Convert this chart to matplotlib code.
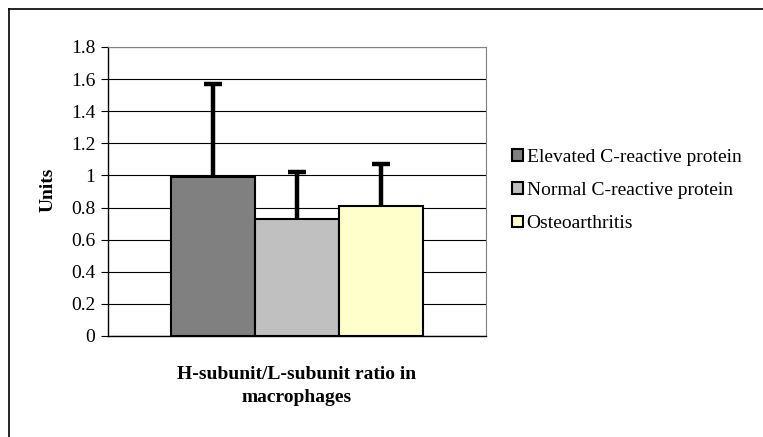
import matplotlib
matplotlib.use("Agg")
import matplotlib.pyplot as plt
from matplotlib.patches import Patch
from matplotlib.lines import Line2D

plt.rcParams['font.family'] = ['Liberation Serif', 'DejaVu Serif']

series = ["Elevated C-reactive protein", "Normal C-reactive protein", "Osteoarthritis"]
values = [0.99, 0.73, 0.81]
errors = [0.58, 0.29, 0.26]
colors = ["#808080", "#C0C0C0", "#FFFFCC"]
yticks = [0, 0.2, 0.4, 0.6, 0.8, 1, 1.2, 1.4, 1.6, 1.8]
ytick_labels = ["0", "0.2", "0.4", "0.6", "0.8", "1", "1.2", "1.4", "1.6", "1.8"]
xlabel = "H-subunit/L-subunit ratio in\nmacrophages"
ylabel = "Units"

W, H = 763, 437
fig = plt.figure(figsize=(W / 100, H / 100), dpi=100)

ax = fig.add_axes([108 / W, (H - 336) / H, 378 / W, 289 / H])
ax.set_axisbelow(True)
x = list(range(len(values)))
ax.bar(x, values, width=1.0, color=colors, edgecolor="black", linewidth=1.5, zorder=2)
eb = ax.errorbar(x, values, yerr=[[0] * len(errors), errors], fmt="none", ecolor="black",
                 elinewidth=3.2, capsize=6.5, capthick=3.2, zorder=3)
# hide the lower caps (only upward error bars)
eb[1][0].set_visible(False)

ax.set_xlim(-1.25, 3.25)
ax.set_ylim(0, 1.8)
ax.set_yticks(yticks)
ax.set_yticklabels(ytick_labels, fontsize=14)
ax.set_xticks([])
ax.yaxis.grid(True, color="black", linewidth=0.8)
ax.tick_params(axis="y", direction="out", length=5, width=0.8, pad=4)
for s in ["left", "bottom"]:
    ax.spines[s].set_color("black")
    ax.spines[s].set_linewidth(1.0)
for s in ["top", "right"]:
    ax.spines[s].set_color("#808080")
    ax.spines[s].set_linewidth(0.8)

fig.text(297 / W, 1 - 386 / H, xlabel, ha="center", va="center", fontsize=14,
         fontweight="bold", linespacing=1.45)
fig.text(48 / W, 1 - 190 / H, ylabel, ha="center", va="center", fontsize=14,
         fontweight="bold", rotation=90)

handles = [Patch(facecolor=c, edgecolor="black", linewidth=1.5) for c in colors]
fig.legend(handles, series, loc="upper left", bbox_to_anchor=(512 / W, 1 - 149 / H),
           frameon=False, fontsize=14, handlelength=0.55, handleheight=0.55,
           handletextpad=0.2, labelspacing=0.83, borderaxespad=0, borderpad=0)

# outer chart border (top and left visible; extends past right/bottom edges)
fig.add_artist(Line2D([8.5 / W, 8.5 / W], [1 - 8.5 / H, 0], transform=fig.transFigure,
                      color="black", linewidth=1.2))
fig.add_artist(Line2D([8.5 / W, 1], [1 - 8.5 / H, 1 - 8.5 / H], transform=fig.transFigure,
                      color="black", linewidth=1.2))

fig.savefig("out.png", dpi=100)
